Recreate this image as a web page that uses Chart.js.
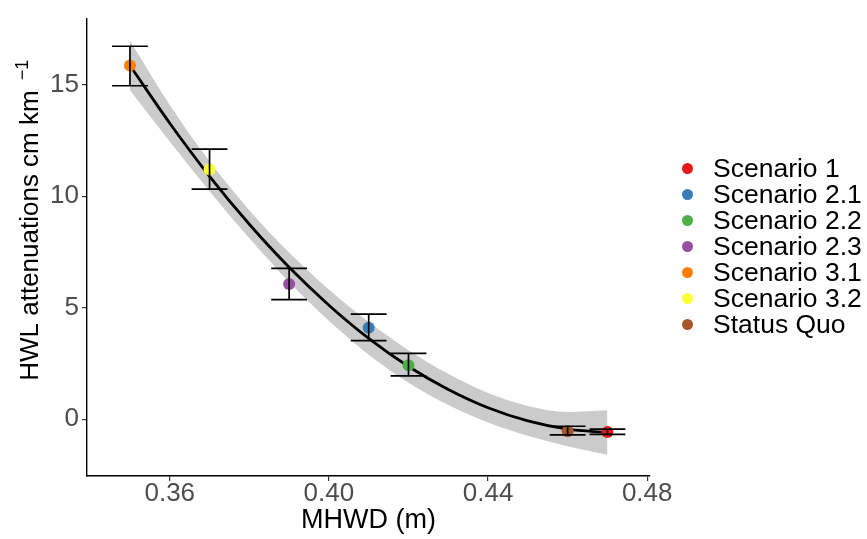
<!DOCTYPE html>
<html>
<head>
<meta charset="utf-8">
<script src="https://cdn.jsdelivr.net/npm/chart.js@4.4.1/dist/chart.umd.min.js"></script>
<style>
  html, body { margin: 0; padding: 0; background: #fff; }
  #wrap { position: relative; width: 867px; height: 539px; overflow: hidden; }
  #legend { position: absolute; left: 674px; top: 155px; font-family: 'Liberation Sans', Arial, Helvetica, sans-serif; font-size: 26.5px; color: #000; }
  .row { display: flex; align-items: center; height: 26px; white-space: nowrap; }
  .dot { width: 11px; height: 11px; border-radius: 50%; margin-left: 7.5px; margin-right: 20.5px; flex: none; }
</style>
</head>
<body>
<div id="wrap">
  <canvas id="c" width="867" height="539"></canvas>
  <div id="legend"></div>
</div>
<script>
// ---- data ----
const scenarios = ['Scenario 1', 'Scenario 2.1', 'Scenario 2.2', 'Scenario 2.3', 'Scenario 3.1', 'Scenario 3.2', 'Status Quo'];
const colors    = ['#E41A1C', '#377EB8', '#4DAF4A', '#984EA3', '#FF7F00', '#FFFF33', '#A65628'];
const mhwd      = [0.47, 0.41, 0.42, 0.39, 0.35, 0.37, 0.46];
const hwl       = [-0.58, 4.10, 2.42, 6.06, 15.86, 11.19, -0.54];
const errLow    = [-0.68, 3.52, 1.94, 5.36, 14.95, 10.31, -0.71];
const errHigh   = [-0.45, 4.71, 2.95, 6.76, 16.72, 12.11, -0.32];

// smoothed fit line and its confidence band
const fitX    = [0.35, 0.36, 0.37, 0.38, 0.39, 0.40, 0.41, 0.42, 0.43, 0.44, 0.45, 0.46, 0.47];
const fitY    = [15.86, 13.27, 10.89, 8.74, 6.81, 5.11, 3.62, 2.36, 1.33, 0.51, -0.08, -0.45, -0.60];
const fitLow  = [14.75, 12.45, 10.22, 8.11, 6.15, 4.41, 2.89, 1.63, 0.63, -0.15, -0.75, -1.22, -1.60];
const fitHigh = [16.97, 14.09, 11.56, 9.37, 7.47, 5.81, 4.35, 3.09, 2.03, 1.17, 0.59, 0.32, 0.40];

const xTicks = [0.36, 0.40, 0.44, 0.48];
const yTicks = [0, 5, 10, 15];

const X_TITLE = 'MHWD (m)';
const Y_TITLE = 'HWL attenuations cm km';
const Y_TITLE_SUP = '\u22121';

// ---- styling ----
const FONT = "'Liberation Sans', Arial, Helvetica, sans-serif";
const CAP_HALF = 0.0045; // error bar cap half-width (x units)

const datasets = [];

// error bars (top layer)
scenarios.forEach((name, i) => {
  const x = mhwd[i];
  datasets.push({
    label: '_err_' + name,
    type: 'scatter',
    showLine: true,
    data: [
      { x: x, y: errLow[i] }, { x: x, y: errHigh[i] }, { x: x, y: null },
      { x: x - CAP_HALF, y: errHigh[i] }, { x: x + CAP_HALF, y: errHigh[i] }, { x: x, y: null },
      { x: x - CAP_HALF, y: errLow[i] }, { x: x + CAP_HALF, y: errLow[i] }
    ],
    borderColor: '#000',
    borderWidth: 1.7,
    pointRadius: 0,
    spanGaps: false,
    tension: 0,
    order: 1
  });
});

// points
scenarios.forEach((name, i) => {
  datasets.push({
    label: name,
    type: 'scatter',
    data: [{ x: mhwd[i], y: hwl[i] }],
    pointRadius: 6,
    pointBackgroundColor: colors[i],
    pointBorderWidth: 0,
    backgroundColor: colors[i],
    borderColor: colors[i],
    order: 2
  });
});

// fit line
datasets.push({
  label: '_fit',
  type: 'line',
  data: fitX.map((x, i) => ({ x: x, y: fitY[i] })),
  borderColor: '#000',
  borderWidth: 2.8,
  pointRadius: 0,
  fill: false,
  cubicInterpolationMode: 'monotone',
  order: 3
});

// confidence band
datasets.push({
  label: '_bandHigh',
  type: 'line',
  data: fitX.map((x, i) => ({ x: x, y: fitHigh[i] })),
  borderWidth: 0,
  borderColor: 'rgba(0,0,0,0)',
  backgroundColor: '#cbcbcb',
  pointRadius: 0,
  fill: '+1',
  cubicInterpolationMode: 'monotone',
  order: 4
});
datasets.push({
  label: '_bandLow',
  type: 'line',
  data: fitX.map((x, i) => ({ x: x, y: fitLow[i] })),
  borderWidth: 0,
  borderColor: 'rgba(0,0,0,0)',
  pointRadius: 0,
  fill: false,
  cubicInterpolationMode: 'monotone',
  order: 4
});

// y-axis title with a raised superscript (drawn as canvas text like Chart.js titles)
const yTitlePlugin = {
  id: 'yTitleSup',
  afterDraw(chart) {
    const ctx = chart.ctx;
    const area = chart.chartArea;
    ctx.save();
    ctx.fillStyle = '#000';
    ctx.textAlign = 'left';
    ctx.textBaseline = 'alphabetic';
    ctx.font = '26px ' + FONT;
    const wMain = ctx.measureText(Y_TITLE).width;
    ctx.font = '18px ' + FONT;
    const wSup = ctx.measureText(Y_TITLE_SUP).width;
    const gap = 10;
    const total = wMain + gap + wSup;
    const centerY = (area.top + area.bottom) / 2 - 27;
    const baselineX = 38;
    ctx.translate(baselineX, centerY + total / 2);
    ctx.rotate(-Math.PI / 2);
    ctx.font = '26px ' + FONT;
    ctx.fillText(Y_TITLE, 0, 0);
    ctx.font = '18px ' + FONT;
    ctx.fillText(Y_TITLE_SUP, wMain + gap, -10);
    ctx.restore();
  }
};

const axisGrid = { drawOnChartArea: false, drawTicks: true, tickLength: 5, color: '#333', lineWidth: 1.2 };
const axisBorder = { display: true, color: '#000', width: 1.4 };

new Chart(document.getElementById('c'), {
  type: 'scatter',
  data: { datasets: datasets },
  plugins: [yTitlePlugin],
  options: {
    responsive: false,
    animation: false,
    events: [],
    layout: { padding: { top: 7, right: 217, bottom: 0, left: 0 } },
    plugins: { legend: { display: false }, tooltip: { enabled: false } },
    scales: {
      x: {
        type: 'linear',
        min: 0.3392,
        max: 0.4807,
        afterBuildTicks: s => { s.ticks = xTicks.map(v => ({ value: v })); },
        afterFit: s => { s.height = 63; },
        ticks: {
          callback: v => Number(v).toFixed(2),
          font: { family: FONT, size: 26, lineHeight: 1 },
          color: '#4d4d4d',
          padding: 0,
          maxRotation: 0,
          autoSkip: false
        },
        title: {
          display: true,
          text: X_TITLE,
          color: '#000',
          font: { family: FONT, size: 27, lineHeight: 1 },
          padding: { top: 0, bottom: 4.5 }
        },
        grid: axisGrid,
        border: axisBorder
      },
      y: {
        type: 'linear',
        min: -2.55,
        max: 17.96,
        afterBuildTicks: s => { s.ticks = yTicks.map(v => ({ value: v })); },
        afterFit: s => { s.width = 87; },
        ticks: {
          callback: v => String(v),
          font: { family: FONT, size: 26 },
          color: '#4d4d4d',
          padding: 3,
          autoSkip: false
        },
        title: { display: false },
        grid: axisGrid,
        border: axisBorder
      }
    }
  }
});

// legend (HTML)
const legendEl = document.getElementById('legend');
scenarios.forEach((name, i) => {
  const row = document.createElement('div');
  row.className = 'row';
  const dot = document.createElement('span');
  dot.className = 'dot';
  dot.style.background = colors[i];
  const txt = document.createElement('span');
  txt.textContent = name;
  row.appendChild(dot);
  row.appendChild(txt);
  legendEl.appendChild(row);
});
</script>
</body>
</html>
